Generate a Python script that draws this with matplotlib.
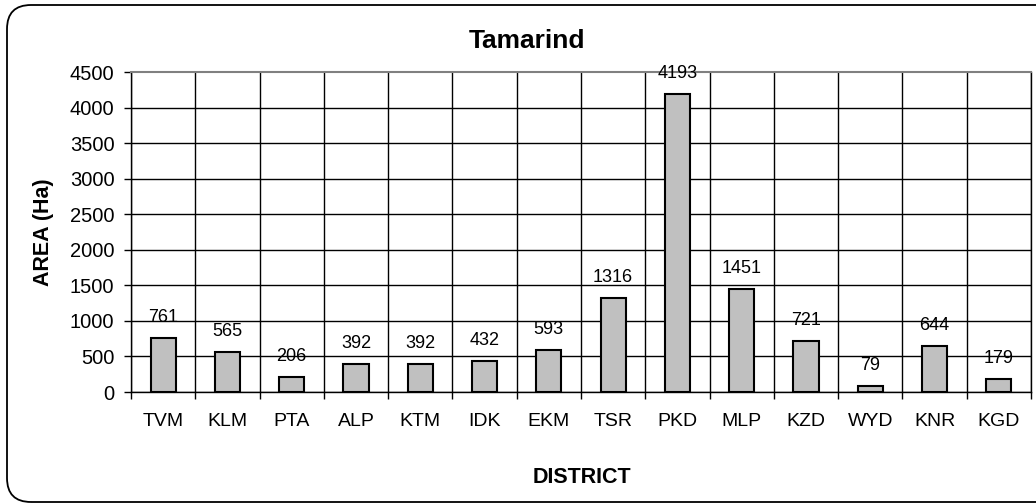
import numpy as np
import matplotlib
matplotlib.use("Agg")
import matplotlib.pyplot as plt
from matplotlib.patches import FancyBboxPatch
from matplotlib.transforms import IdentityTransform

plt.rcParams['font.family'] = ['Liberation Sans', 'DejaVu Sans']

districts = ['TVM', 'KLM', 'PTA', 'ALP', 'KTM', 'IDK', 'EKM',
             'TSR', 'PKD', 'MLP', 'KZD', 'WYD', 'KNR', 'KGD']
area = [761, 565, 206, 392, 392, 432, 593, 1316, 4193, 1451, 721, 79, 644, 179]
yticks = [0, 500, 1000, 1500, 2000, 2500, 3000, 3500, 4000, 4500]

W, H = 1036, 504
fig = plt.figure(figsize=(W / 100, H / 100), dpi=100)

# rounded outer border (pixel coords, runs off the right edge like the original)
border = FancyBboxPatch((7, 2), 1060, 497, boxstyle="round,pad=0,rounding_size=24",
                        transform=IdentityTransform(), fill=False,
                        edgecolor='black', linewidth=1.3)
fig.patches.append(border)

ax = fig.add_axes([131 / W, 112 / H, 900 / W, 320 / H])

x = np.arange(len(districts))
ax.bar(x, area, width=0.39, color='#C0C0C0', edgecolor='black', linewidth=1.5, zorder=3)

for i, v in enumerate(area):
    ax.annotate(str(v), (i, v), xytext=(0, 11.5), textcoords='offset points',
                ha='center', va='baseline', fontsize=13, zorder=4)

ax.set_xlim(-0.5, len(districts) - 0.5)
ax.set_ylim(0, 4500)

# boundaries as major ticks (gridlines), names as minor ticks
ax.set_xticks(np.arange(len(districts) + 1) - 0.5)
ax.set_xticklabels([])
ax.set_xticks(x, minor=True)
ax.set_xticklabels(districts, minor=True, fontsize=14)
ax.tick_params(axis='x', which='major', direction='out', length=5, width=1)
ax.tick_params(axis='x', which='minor', length=0, pad=15)

ax.set_yticks(yticks)
ax.set_yticklabels([str(t) for t in yticks], fontsize=14.5)
ax.tick_params(axis='y', direction='out', length=5, width=1, pad=7)

ax.grid(True, axis='both', which='major', color='black', linewidth=1, zorder=0)
ax.get_ygridlines()[-1].set_visible(False)
ax.set_axisbelow(True)

for s in ['left', 'bottom', 'right']:
    ax.spines[s].set_color('black')
    ax.spines[s].set_linewidth(1)
ax.spines['top'].set_color('#808080')
ax.spines['top'].set_linewidth(1.5)

fig.text(527 / W, (H - 48) / H, 'Tamarind', ha='center', va='baseline',
         fontsize=19, fontweight='bold')
fig.text(582 / W, (H - 483) / H, 'DISTRICT', ha='center', va='baseline',
         fontsize=15.5, fontweight='bold')
fig.text(44 / W, (H - 232) / H, 'AREA (Ha)', ha='center', va='center',
         rotation=90, fontsize=15.5, fontweight='bold')

fig.savefig('out.png', dpi=100)
